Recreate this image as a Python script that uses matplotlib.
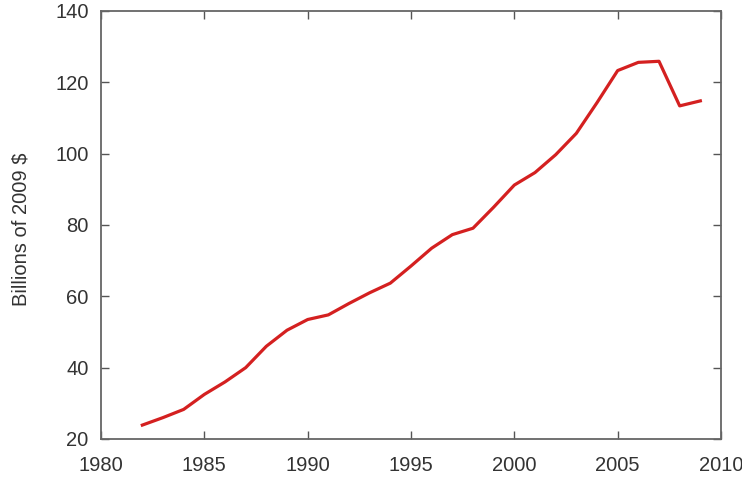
import matplotlib
matplotlib.use('Agg')
import matplotlib.pyplot as plt

# 数据
years = list(range(1982, 2010))
values = [23.9, 26.0, 28.3, 32.5, 36.0, 40.0, 46.0, 50.5, 53.5, 54.8,
          58.0, 61.0, 63.7, 68.5, 73.5, 77.3, 79.1, 85.0, 91.2, 94.7,
          99.7, 105.7, 114.3, 123.3, 125.6, 125.9, 113.4, 114.8]
x_ticks = [1980, 1985, 1990, 1995, 2000, 2005, 2010]
y_ticks = [20, 40, 60, 80, 100, 120, 140]

plt.rcParams['font.family'] = ['Liberation Sans', 'DejaVu Sans']

fig = plt.figure(figsize=(7.42, 4.79), dpi=100)
ax = fig.add_axes([101 / 742, 1 - 439 / 479, 620 / 742, 428 / 479])

ax.plot(years, values, color='#d42020', lw=2.3)

ax.set_xlim(1980, 2010)
ax.set_ylim(20, 140)
ax.set_xticks(x_ticks)
ax.set_yticks(y_ticks)
ax.tick_params(direction='in', length=6, width=1, color='#555555',
               top=True, right=True, labelsize=14.5, labelcolor='#333333')
ax.tick_params(axis='x', pad=12)
ax.tick_params(axis='y', pad=9)
for s in ax.spines.values():
    s.set_color('#666666')
    s.set_linewidth(1.3)

ax.set_ylabel('Billions of 2009 $', fontsize=14.5, color='#333333')
ax.yaxis.set_label_coords(-0.113, 0.49)

fig.savefig('out.png', dpi=100)
